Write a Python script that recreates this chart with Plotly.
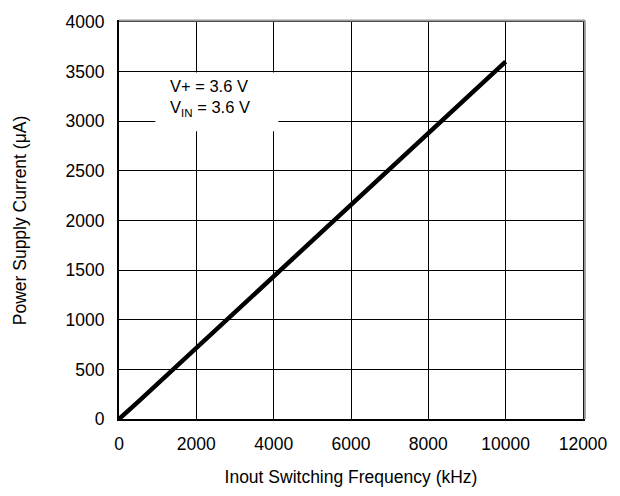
import plotly.graph_objects as go

freq_khz = [0, 500, 10000]
current_ua = [0, 175, 3600]

x_ticks = [0, 2000, 4000, 6000, 8000, 10000, 12000]
x_ticktext = ["0", "2000", "4000", "6000", "8000", "10000", "12000"]
y_ticks = [0, 500, 1000, 1500, 2000, 2500, 3000, 3500, 4000]
y_ticktext = ["0", "500", "1000", "1500", "2000", "2500", "3000", "3500", "4000"]

FONT = "Liberation Sans, Arial"
FS = 17.5

fig = go.Figure()
fig.add_trace(go.Scatter(x=freq_khz, y=current_ua, mode="lines",
                         line=dict(color="black", width=4.5), showlegend=False))

# shadow on top/right frame
fig.add_shape(type="line", xref="paper", yref="paper", x0=0, x1=1.004, y0=1.004, y1=1.004,
              line=dict(color="#999999", width=2), layer="above")
fig.add_shape(type="line", xref="paper", yref="paper", x0=1.004, x1=1.004, y0=0, y1=1.004,
              line=dict(color="#999999", width=2), layer="above")

# white box behind annotation
fig.add_shape(type="rect", x0=940, x1=4120, y0=2900, y1=3490,
              fillcolor="white", line=dict(width=0), layer="above")
fig.add_annotation(x=1275, y=3235, xanchor="left", yanchor="middle",
                   text="V+ = 3.6 V<br>V<sub>IN</sub> = 3.6 V", showarrow=False, align="left",
                   font=dict(family=FONT, size=16.5, color="black"))

axis_common = dict(showgrid=True, gridcolor="black", gridwidth=1,
                   showline=True, linecolor="black", linewidth=2, mirror=True,
                   ticks="", zeroline=False,
                   tickfont=dict(family=FONT, size=FS, color="black"),
                   title_font=dict(family=FONT, size=FS, color="black"))

fig.update_xaxes(range=[0, 12000], tickvals=x_ticks, ticktext=x_ticktext,
                 ticklabelstandoff=8,
                 title_text="Inout Switching Frequency (kHz)", title_standoff=18,
                 **axis_common)
fig.update_yaxes(range=[0, 4000], tickvals=y_ticks, ticktext=y_ticktext,
                 ticklabelstandoff=9,
                 title_text="Power Supply Current (μA)", title_standoff=34,
                 **axis_common)

fig.update_layout(width=620, height=496,
                  margin=dict(l=119, r=37, t=17, b=75),
                  plot_bgcolor="white", paper_bgcolor="white")

fig.write_html("out.html", config={"displayModeBar": False},
               post_script="document.body.style.margin='0';document.body.style.padding='0';")
